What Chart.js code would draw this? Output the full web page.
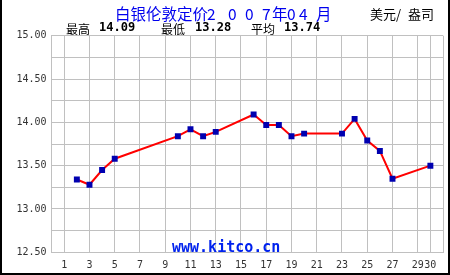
<!DOCTYPE html>
<html>
<head>
<meta charset="utf-8">
<script src="https://cdn.jsdelivr.net/npm/chart.js@4.4.0/dist/chart.umd.min.js"></script>
<style>
  body { margin: 0; background: #fff; }
  #wrap { position: relative; width: 450px; height: 275px; }
  #chart { position: absolute; left: 0; top: 0; }
  .txt { position: absolute; white-space: pre; line-height: 1; }
  .title { top: 2px; color: #0000ee; font: 15.5px "Noto Sans CJK SC"; }
  .unit { top: 4px; color: #000; font: 13px "Noto Sans CJK SC"; }
  .lab { top: 20px; color: #000; font: 12px "Noto Sans CJK SC"; }
  .num { top: 20px; color: #000; font: bold 12px "DejaVu Sans Mono"; }
  #site { left: 172px; top: 238px; color: #0022ee; font: bold 15px "DejaVu Sans Mono"; }
</style>
</head>
<body>
<div id="wrap">
  <canvas id="chart" width="450" height="275"></canvas>
  <div class="txt title" style="left:115px">白银伦敦定价</div>
  <div class="txt title" style="left:207px">2</div>
  <div class="txt title" style="left:228px">0</div>
  <div class="txt title" style="left:245px">0</div>
  <div class="txt title" style="left:262px">7</div>
  <div class="txt title" style="left:272px">年</div>
  <div class="txt title" style="left:287px">0</div>
  <div class="txt title" style="left:299px">4</div>
  <div class="txt title" style="left:316px">月</div>
  <div class="txt unit" style="left:370px">美元/</div>
  <div class="txt unit" style="left:408px">盎司</div>
  <div class="txt lab" style="left:66px">最高</div>
  <div class="txt num" style="left:99px">14.09</div>
  <div class="txt lab" style="left:161px">最低</div>
  <div class="txt num" style="left:195px">13.28</div>
  <div class="txt lab" style="left:251px">平均</div>
  <div class="txt num" style="left:284px">13.74</div>
  <div class="txt" id="site">www.kitco.cn</div>
</div>
<script>
// trading days of April 2007 and the London silver fix (USD/oz)
var days = [2, 3, 4, 5, 10, 11, 12, 13, 16, 17, 18, 19, 20, 23, 24, 25, 26, 27, 30];
var prices = [13.34, 13.28, 13.45, 13.58, 13.84, 13.92, 13.84, 13.89, 14.09, 13.97, 13.97, 13.84, 13.87, 13.87, 14.04, 13.79, 13.67, 13.35, 13.50];
var xTicks = [1, 3, 5, 7, 9, 11, 13, 15, 17, 19, 21, 23, 25, 27, 29, 30];

var points = [];
for (var i = 0; i < days.length; i++) {
    points.push({x: days[i], y: prices[i]});
}

var frame = {
    id: 'frame',
    afterDraw: function(chart) {
        var c = chart.ctx;
        c.save();
        c.fillStyle = '#000';
        c.fillRect(0, 0, 2, 275);
        c.fillRect(448, 0, 2, 275);
        c.fillRect(0, 273, 450, 2);
        c.restore();
    }
};

var ctx = document.getElementById("chart").getContext('2d');
var myChart = new Chart(ctx, {
    type: 'line',
    data: {
        datasets: [{
            data: points,
            borderColor: '#ff0000',
            borderWidth: 2,
            backgroundColor: '#0000b0',
            pointBackgroundColor: '#0000b0',
            pointBorderColor: '#0000b0',
            pointBorderWidth: 0,
            pointStyle: 'rect',
            pointRadius: 4.2,
            tension: 0
        }]
    },
    options: {
        responsive: false,
        animation: false,
        layout: { padding: { top: 35.7, right: 6, left: 0, bottom: 0 } },
        plugins: { legend: { display: false }, tooltip: { enabled: false } },
        scales: {
            x: {
                type: 'linear',
                min: 0,
                max: 31,
                afterBuildTicks: function(scale) {
                    scale.ticks = xTicks.concat([31]).map(function(v) { return {value: v}; });
                },
                afterFit: function(scale) { scale.height = 22.7; },
                grid: { color: '#c0c0c0', drawTicks: false, lineWidth: 1 },
                border: { color: '#c0c0c0' },
                ticks: {
                    autoSkip: false,
                    maxRotation: 0,
                    padding: 7,
                    color: '#333',
                    font: { family: 'DejaVu Sans Mono', size: 10 },
                    callback: function(v) { return v == 31 ? '' : String(v); }
                }
            },
            y: {
                min: 12.5,
                max: 15,
                afterFit: function(scale) { scale.width = 51.6; },
                grid: { color: '#c0c0c0', drawTicks: false, lineWidth: 1 },
                border: { color: '#c0c0c0' },
                ticks: {
                    stepSize: 0.25,
                    padding: 5,
                    color: '#333',
                    font: { family: 'DejaVu Sans Mono', size: 10 },
                    callback: function(v) {
                        return Math.abs(v * 2 - Math.round(v * 2)) < 1e-6 ? v.toFixed(2) : '';
                    }
                }
            }
        }
    },
    plugins: [frame]
});
</script>
</body>
</html>
